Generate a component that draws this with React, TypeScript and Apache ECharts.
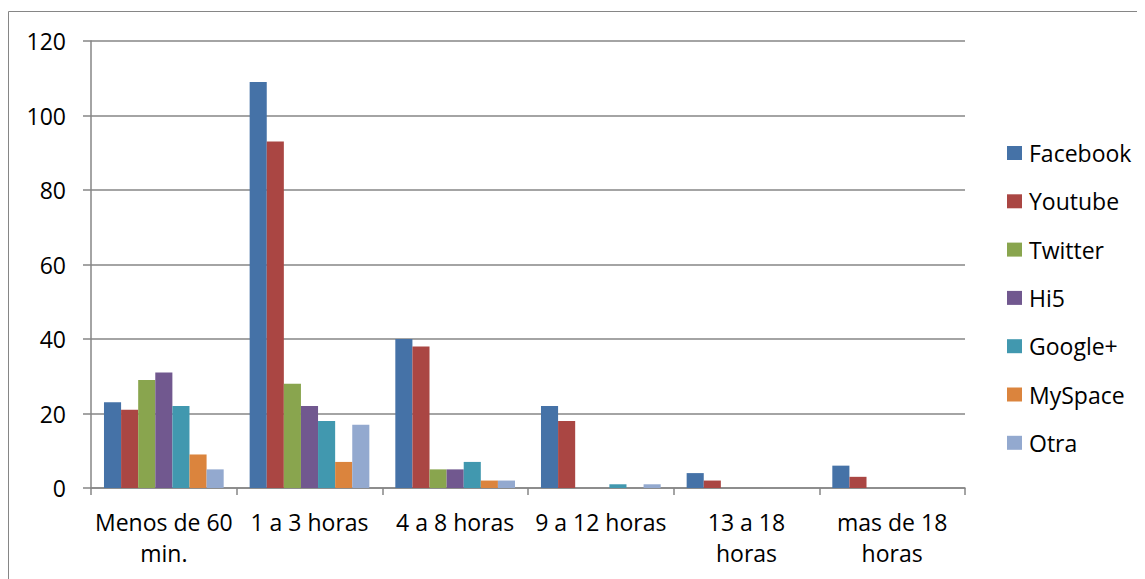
import React, { useEffect, useRef } from "react";
import * as echarts from "echarts";

const categories = ["Menos de 60\nmin.", "1 a 3 horas", "4 a 8 horas", "9 a 12 horas", "13 a 18\nhoras", "mas de 18\nhoras"];
const facebook = [23, 109, 40, 22, 4, 6];
const youtube = [21, 93, 38, 18, 2, 3];
const twitter = [29, 28, 5, 0, 0, 0];
const hi5 = [31, 22, 5, 0, 0, 0];
const googlePlus = [22, 18, 7, 1, 0, 0];
const mySpace = [9, 7, 2, 0, 0, 0];
const otra = [5, 17, 2, 1, 0, 0];
const yTicks = { min: 0, max: 120, interval: 20 };

const seriesDefs = [
  { name: "Facebook", data: facebook, color: "#4572A7" },
  { name: "Youtube", data: youtube, color: "#AA4643" },
  { name: "Twitter", data: twitter, color: "#89A54E" },
  { name: "Hi5", data: hi5, color: "#71588F" },
  { name: "Google+", data: googlePlus, color: "#4198AF" },
  { name: "MySpace", data: mySpace, color: "#DB843D" },
  { name: "Otra", data: otra, color: "#93A9CF" },
];

const FONT = "'Open Sans', sans-serif";
const GRAY = "#868686";

export default function App() {
  const ref = useRef<HTMLDivElement>(null);
  useEffect(() => {
    if (!ref.current) return;
    const chart = echarts.init(ref.current, undefined, { renderer: "svg" });
    chart.setOption({
      animation: false,
      backgroundColor: "#ffffff",
      graphic: [
        {
          type: "rect",
          shape: { x: 0.5, y: 3.5, width: 1140, height: 600 },
          style: { fill: "none", stroke: GRAY, lineWidth: 1 },
          silent: true,
        },
      ],
      grid: { left: 83, top: 33, width: 874, height: 447 },
      legend: {
        orient: "vertical",
        left: 994,
        top: 128,
        itemWidth: 15,
        itemHeight: 14,
        itemGap: 24.3,
        icon: "rect",
        textStyle: { fontFamily: FONT, fontSize: 23, color: "#000", lineHeight: 24, padding: [0, 0, 0, 2] },
        data: seriesDefs.map((s) => s.name),
      },
      xAxis: {
        type: "category",
        data: categories,
        boundaryGap: true,
        axisLine: { show: true, lineStyle: { color: GRAY, width: 1.5 } },
        axisTick: { show: true, length: 7, alignWithLabel: false, lineStyle: { color: GRAY, width: 1.5 } },
        axisLabel: {
          interval: 0,
          margin: 18,
          fontFamily: FONT,
          fontSize: 23,
          color: "#000",
          lineHeight: 31,
        },
      },
      yAxis: {
        type: "value",
        min: yTicks.min,
        max: yTicks.max,
        interval: yTicks.interval,
        axisLine: { show: true, lineStyle: { color: GRAY, width: 1.5 } },
        axisTick: { show: true, length: 8, lineStyle: { color: GRAY, width: 1.5 } },
        splitLine: { show: true, lineStyle: { color: GRAY, width: 1.5 } },
        axisLabel: { margin: 25, fontFamily: FONT, fontSize: 23, color: "#000" },
      },
      series: seriesDefs.map((s) => ({
        name: s.name,
        type: "bar",
        data: s.data,
        barWidth: 17.1,
        barGap: "0%",
        itemStyle: { color: s.color },
      })),
    });
    return () => chart.dispose();
  }, []);
  return <div ref={ref} style={{ width: 1137, height: 571 }} />;
}
